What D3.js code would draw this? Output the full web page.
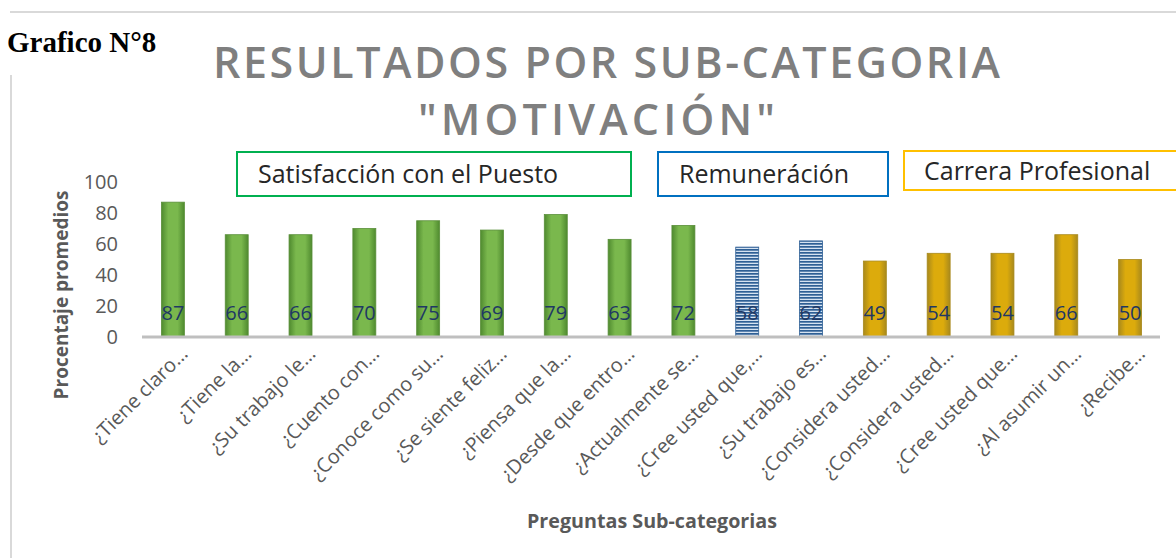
<!DOCTYPE html>
<html>
<head>
    <meta charset="utf-8">
    <title>Resultados por sub-categoria</title>
    <script src="https://d3js.org/d3.v7.min.js"></script>
    <style>
        body { margin: 0; background: #fff; }
        svg { display: block; }
    </style>
</head>
<body>
    <svg id="chart" width="1176" height="558"></svg>
    <script>

// data
var preguntas = ["¿Tiene claro…", "¿Tiene la…", "¿Su trabajo le…", "¿Cuento con…",
    "¿Conoce como su…", "¿Se siente feliz…", "¿Piensa que la…", "¿Desde que entro…",
    "¿Actualmente se…", "¿Cree usted que,…", "¿Su trabajo es…", "¿Considera usted…",
    "¿Considera usted…", "¿Cree usted que…", "¿Al asumir un…", "¿Recibe…"]
var valores = [87, 66, 66, 70, 75, 69, 79, 63, 72, 58, 62, 49, 54, 54, 66, 50]
var grupo = ["sat", "sat", "sat", "sat", "sat", "sat", "sat", "sat", "sat",
    "rem", "rem", "car", "car", "car", "car", "car"]
var yTicks = [0, 20, 40, 60, 80, 100]
var subcategorias = [
    {id: "sat", nombre: "Satisfacción con el Puesto"},
    {id: "rem", nombre: "Remuneráción"},
    {id: "car", nombre: "Carrera Profesional"}
]

var svg = d3.select('#chart')
var font = "'Open Sans', 'Noto Sans', sans-serif"

var x = d3.scaleBand().domain(d3.range(valores.length)).range([141, 1162]).paddingInner(0.64).paddingOuter(0.32)
var y = d3.scaleLinear().domain([0, 100]).range([337, 182])

// page decorations
svg.append('line').attr('x1', 10).attr('x2', 1176).attr('y1', 12).attr('y2', 12)
    .attr('stroke', '#d9d9d9').attr('stroke-width', 2)
svg.append('line').attr('x1', 11).attr('x2', 11).attr('y1', 75).attr('y2', 558)
    .attr('stroke', '#d9d9d9').attr('stroke-width', 2)

svg.append('text').attr('x', 7).attr('y', 52)
    .attr('font-family', "'Liberation Serif', 'Times New Roman', serif")
    .attr('font-weight', 'bold').attr('font-size', 29).attr('fill', '#000')
    .text('Grafico N°8')

// title
svg.append('text').attr('x', 213).attr('y', 78).attr('textLength', 787).attr('lengthAdjust', 'spacing')
    .attr('font-family', font).attr('font-weight', 600).attr('font-size', 43).attr('fill', '#7f7f7f')
    .text('RESULTADOS POR SUB-CATEGORIA')
svg.append('text').attr('x', 418).attr('y', 135).attr('textLength', 357).attr('lengthAdjust', 'spacing')
    .attr('font-family', font).attr('font-weight', 600).attr('font-size', 43).attr('fill', '#7f7f7f')
    .text('"MOTIVACIÓN"')

// gradients & patterns
var defs = svg.append('defs')
function edgeGrad(id, edge, mid) {
    var g = defs.append('linearGradient').attr('id', id)
    g.append('stop').attr('offset', '0%').attr('stop-color', edge)
    g.append('stop').attr('offset', '30%').attr('stop-color', mid)
    g.append('stop').attr('offset', '70%').attr('stop-color', mid)
    g.append('stop').attr('offset', '100%').attr('stop-color', edge)
}
edgeGrad('gSat', '#4f8a2f', '#7ab84d')
edgeGrad('gCar', '#a8891c', '#dcab0c')
var pat = defs.append('pattern').attr('id', 'pRem').attr('patternUnits', 'userSpaceOnUse')
    .attr('width', 6).attr('height', 3)
pat.append('rect').attr('width', 6).attr('height', 3).attr('fill', '#d5e2f1')
pat.append('rect').attr('width', 6).attr('height', 1.7).attr('fill', '#2e5f95')

var fills = {sat: 'url(#gSat)', rem: 'url(#pRem)', car: 'url(#gCar)'}
var strokes = {sat: '#5a8f3a', rem: '#2e5f95', car: '#a8891c'}
var colores = {sat: '#00b050', rem: '#0070c0', car: '#ffc000'}

// y axis
var yAxis = d3.axisLeft(y).tickValues(yTicks).tickSize(0).tickPadding(0)
var gy = svg.append('g').attr('transform', 'translate(118,0)').call(yAxis)
gy.select('.domain').remove()
gy.selectAll('text').attr('font-family', font).attr('font-size', 20).attr('fill', '#595959')

// bars
svg.append('g').selectAll('rect').data(valores).enter().append('rect')
    .attr('x', function (d, i) { return x(i) })
    .attr('width', x.bandwidth())
    .attr('y', function (d) { return y(d) })
    .attr('height', function (d) { return y(0) - y(d) })
    .attr('fill', function (d, i) { return fills[grupo[i]] })
    .attr('stroke', function (d, i) { return strokes[grupo[i]] })
    .attr('stroke-width', 0.8)

// x axis
var xAxis = d3.axisBottom(x).tickSize(0).tickFormat(function (i) { return preguntas[i] })
var gx = svg.append('g').attr('transform', 'translate(0,' + y(0) + ')').call(xAxis)
gx.select('.domain').attr('stroke', '#bfbfbf').attr('stroke-width', 3)
    .attr('d', 'M142,0H1160')
gx.selectAll('text')
    .attr('font-family', font).attr('font-size', 20).attr('fill', '#595959')
    .attr('text-anchor', 'end').attr('dy', 0)
    .attr('transform', 'translate(14,16) rotate(-45)')

// value labels
svg.append('g').selectAll('text').data(valores).enter().append('text')
    .attr('x', function (d, i) { return x(i) + x.bandwidth() / 2 })
    .attr('y', 320)
    .attr('text-anchor', 'middle')
    .attr('font-family', font).attr('font-size', 20).attr('fill', '#1f3864')
    .text(function (d) { return d })

// sub-category boxes
var cajas = [
    {x: 237, y: 152, w: 394, h: 44, tx: 258, ty: 183},
    {x: 658, y: 152, w: 230, h: 44, tx: 679, ty: 183},
    {x: 904, y: 151, w: 280, h: 39, tx: 924, ty: 180}
]
subcategorias.forEach(function (s, k) {
    var c = cajas[k]
    svg.append('rect').attr('x', c.x).attr('y', c.y).attr('width', c.w).attr('height', c.h)
        .attr('fill', '#fff').attr('stroke', colores[s.id]).attr('stroke-width', 2)
    svg.append('text').attr('x', c.tx).attr('y', c.ty)
        .attr('font-family', font).attr('font-size', 25).attr('fill', '#262626')
        .text(s.nombre)
})

// axis titles
svg.append('text').attr('transform', 'translate(68,295) rotate(-90)')
    .attr('text-anchor', 'middle').attr('font-family', font).attr('font-weight', 'bold')
    .attr('font-size', 19).attr('fill', '#595959')
    .text('Procentaje promedios')
svg.append('text').attr('x', 652).attr('y', 528)
    .attr('text-anchor', 'middle').attr('textLength', 250).attr('lengthAdjust', 'spacingAndGlyphs')
    .attr('font-family', font).attr('font-weight', 'bold')
    .attr('font-size', 19).attr('fill', '#595959')
    .text('Preguntas Sub-categorias')

    </script>
</body>
</html>
